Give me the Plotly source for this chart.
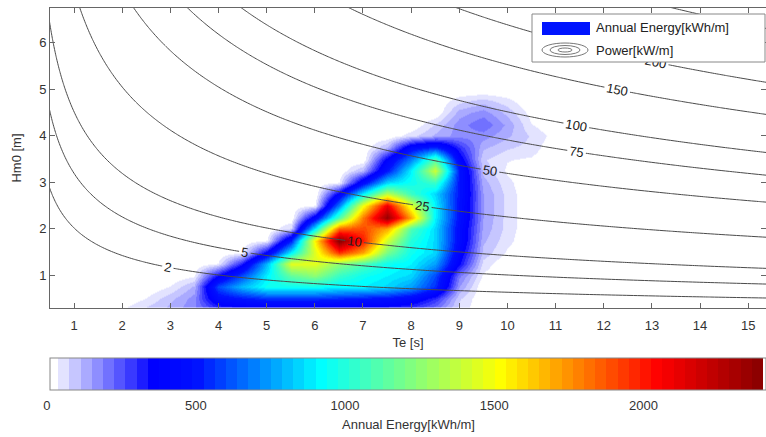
import numpy as np
import plotly.graph_objects as go

# ---------------- data ----------------
TE = [1.5, 2.0, 2.5, 3.0, 3.5, 4.0, 4.5, 5.0, 5.5, 6.0, 6.5, 7.0,
      7.5, 8.0, 8.5, 9.0, 9.5, 10.0, 10.5, 11.0, 11.5]
HM0 = [0.0, 0.25, 0.5, 0.75, 1.0, 1.25, 1.5, 1.75, 2.0, 2.25, 2.5,
       2.75, 3.0, 3.25, 3.5, 3.75, 4.0, 4.25, 4.5, 4.75, 5.0]
# annual energy [kWh/m], one row per HM0 value, columns follow TE
ENERGY = [
    [0, 30, 70, 110, 150, 180, 200, 200, 200, 200, 200, 200, 190, 170, 120, 40, 0, 0, 0, 0, 0],
    [0, 40, 90, 130, 180, 250, 280, 280, 280, 280, 280, 280, 270, 250, 180, 60, 0, 0, 0, 0, 0],
    [0, 0, 40, 100, 170, 450, 500, 550, 550, 550, 530, 500, 480, 420, 300, 80, 0, 0, 0, 0, 0],
    [0, 0, 0, 40, 120, 600, 800, 950, 950, 950, 900, 900, 850, 750, 550, 150, 0, 0, 0, 0, 0],
    [0, 0, 0, 0, 30, 350, 600, 900, 1150, 1250, 1050, 950, 900, 850, 600, 200, 30, 0, 0, 0, 0],
    [0, 0, 0, 0, 0, 40, 320, 800, 1450, 1450, 1250, 1100, 950, 900, 750, 350, 60, 0, 0, 0, 0],
    [0, 0, 0, 0, 0, 0, 30, 380, 900, 1450, 1950, 1700, 1200, 950, 850, 400, 100, 30, 0, 0, 0],
    [0, 0, 0, 0, 0, 0, 0, 40, 520, 1550, 2400, 2000, 1400, 1000, 850, 450, 120, 50, 0, 0, 0],
    [0, 0, 0, 0, 0, 0, 0, 0, 80, 900, 1850, 1900, 1700, 1100, 850, 450, 140, 60, 0, 0, 0],
    [0, 0, 0, 0, 0, 0, 0, 0, 0, 420, 1100, 1800, 2350, 1700, 900, 480, 150, 60, 0, 0, 0],
    [0, 0, 0, 0, 0, 0, 0, 0, 0, 40, 700, 1500, 2100, 1450, 900, 480, 150, 60, 0, 0, 0],
    [0, 0, 0, 0, 0, 0, 0, 0, 0, 0, 380, 900, 1350, 1050, 850, 500, 150, 60, 0, 0, 0],
    [0, 0, 0, 0, 0, 0, 0, 0, 0, 0, 40, 450, 850, 950, 1050, 500, 130, 50, 0, 0, 0],
    [0, 0, 0, 0, 0, 0, 0, 0, 0, 0, 0, 120, 500, 900, 1400, 500, 100, 30, 0, 0, 0],
    [0, 0, 0, 0, 0, 0, 0, 0, 0, 0, 0, 0, 380, 700, 1100, 400, 80, 40, 30, 0, 0],
    [0, 0, 0, 0, 0, 0, 0, 0, 0, 0, 0, 0, 120, 450, 550, 300, 120, 80, 60, 0, 0],
    [0, 0, 0, 0, 0, 0, 0, 0, 0, 0, 0, 0, 0, 60, 120, 170, 170, 120, 70, 20, 0],
    [0, 0, 0, 0, 0, 0, 0, 0, 0, 0, 0, 0, 0, 0, 80, 170, 220, 140, 40, 0, 0],
    [0, 0, 0, 0, 0, 0, 0, 0, 0, 0, 0, 0, 0, 0, 0, 130, 170, 100, 20, 0, 0],
    [0, 0, 0, 0, 0, 0, 0, 0, 0, 0, 0, 0, 0, 0, 0, 60, 90, 50, 0, 0, 0],
    [0, 0, 0, 0, 0, 0, 0, 0, 0, 0, 0, 0, 0, 0, 0, 0, 0, 0, 0, 0, 0],
]
POWER_LEVELS = [2, 5, 10, 25, 50, 75, 100, 150, 200, 300]   # kW/m
POWER_COEF = 0.49          # P = 0.49 * Hm0^2 * Te  (deep water wave power)
X_TICKS = list(range(1, 16))
Y_TICKS = [1, 2, 3, 4, 5, 6]
CB_TICKS = [0, 500, 1000, 1500, 2000]
E_MAX = 2400

# ---------------- layout geometry ----------------
W, H = 766, 437
ML, MR, MT, MB = 50, 0, 8, 129
PW, PH = W - ML - MR, H - MT - MB


def px(x):
    return (x - ML) / PW


def py(y):
    return (H - MB - y) / PH


# ---------------- stepped colour map ----------------
ANCH = [(0, (255, 255, 255)), (337.5, (0, 0, 255)), (480, (0, 15, 255)),
        (900, (0, 255, 255)), (1200, (128, 255, 128)), (1500, (255, 255, 0)),
        (1750, (255, 135, 0)), (2030, (255, 0, 0)), (2400, (128, 0, 0))]


def cmap(v):
    for (v0, c0), (v1, c1) in zip(ANCH[:-1], ANCH[1:]):
        if v <= v1:
            t = (v - v0) / (v1 - v0)
            return tuple(int(round(a + (b - a) * t)) for a, b in zip(c0, c1))
    return ANCH[-1][1]


NB = 64
scale = []
for k in range(NB):
    c = cmap(k * E_MAX / NB)
    col = f"rgb({c[0]},{c[1]},{c[2]})"
    scale.append([k / NB, col])
    scale.append([(k + 1) / NB, col])

fig = go.Figure()

fig.add_trace(go.Heatmap(
    x=TE, y=HM0, z=ENERGY, zsmooth="best", colorscale=scale,
    zmin=0, zmax=E_MAX, hoverinfo="skip",
    colorbar=dict(
        orientation="h", xref="container", yref="container",
        x=ML / W, xanchor="left", y=(H - 358) / H, yanchor="top",
        len=PW, lenmode="pixels", thickness=32, thicknessmode="pixels",
        xpad=0, ypad=0, outlinewidth=1, outlinecolor="#888",
        tickvals=CB_TICKS, ticks="outside", ticklen=4,
        tickcolor="rgba(0,0,0,0)",
        tickfont=dict(size=13, color="#333"),
    ),
))

te_f = np.linspace(0.4, 15.6, 200)
hm_f = np.linspace(0.2, 6.9, 200)
P = POWER_COEF * (hm_f[:, None] ** 2) * te_f[None, :]
for lev in POWER_LEVELS:
    fig.add_trace(go.Contour(
        x=te_f, y=hm_f, z=P, showscale=False, hoverinfo="skip",
        contours=dict(start=lev, end=lev, size=1, coloring="none",
                      showlabels=True,
                      labelfont=dict(size=13, color="#222")),
        line=dict(color="#4a4a4a", width=1),
    ))

# ---------------- legend (drawn) ----------------
shapes = [
    dict(type="rect", xref="paper", yref="paper", x0=px(532), x1=px(765),
         y0=py(62), y1=py(14), fillcolor="white", line=dict(color="#888", width=1),
         layer="above"),
    dict(type="rect", xref="paper", yref="paper", x0=px(542), x1=px(590),
         y0=py(35), y1=py(22), fillcolor="rgb(0,20,255)", line=dict(width=0),
         layer="above"),
]
for rx, ry in [(23, 7), (15, 4.5), (7, 2)]:
    shapes.append(dict(type="circle", xref="paper", yref="paper",
                       x0=px(565 - rx), x1=px(565 + rx), y0=py(50 + ry), y1=py(50 - ry),
                       line=dict(color="#777", width=1), layer="above"))

annotations = [
    dict(text="Annual Energy[kWh/m]", xref="paper", yref="paper", x=px(594), y=py(28),
         xanchor="left", yanchor="middle", showarrow=False,
         font=dict(size=13, color="#222")),
    dict(text="Power[kW/m]", xref="paper", yref="paper", x=px(594), y=py(50),
         xanchor="left", yanchor="middle", showarrow=False,
         font=dict(size=13, color="#222")),
    dict(text="Annual Energy[kWh/m]", xref="paper", yref="paper",
         x=px(408), y=py(424), xanchor="center", yanchor="middle",
         showarrow=False, font=dict(size=13, color="#333")),
]

axis_common = dict(showline=True, linecolor="#666", linewidth=1, mirror="ticks",
                   ticks="inside", ticklen=5, tickcolor="#666", showgrid=False,
                   zeroline=False, automargin=False,
                   tickfont=dict(size=13, color="#333"))

fig.update_layout(
    width=W, height=H,
    margin=dict(l=ML, r=MR, t=MT, b=MB, pad=0, autoexpand=False),
    paper_bgcolor="white", plot_bgcolor="white",
    font=dict(family="Liberation Sans, Arial, sans-serif", size=13, color="#333"),
    showlegend=False, shapes=shapes, annotations=annotations,
    xaxis=dict(range=[0.5, 15.37], tickvals=X_TICKS, ticklabelstandoff=5,
               **axis_common,
               title=dict(text="Te [s]", standoff=6, font=dict(size=13))),
    yaxis=dict(range=[0.3, 6.75], tickvals=Y_TICKS, **axis_common,
               title=dict(text="Hm0 [m]", standoff=14, font=dict(size=13))),
)

fig.write_html("out.html", config={"displayModeBar": False},
               post_script="document.body.style.margin='0';")
